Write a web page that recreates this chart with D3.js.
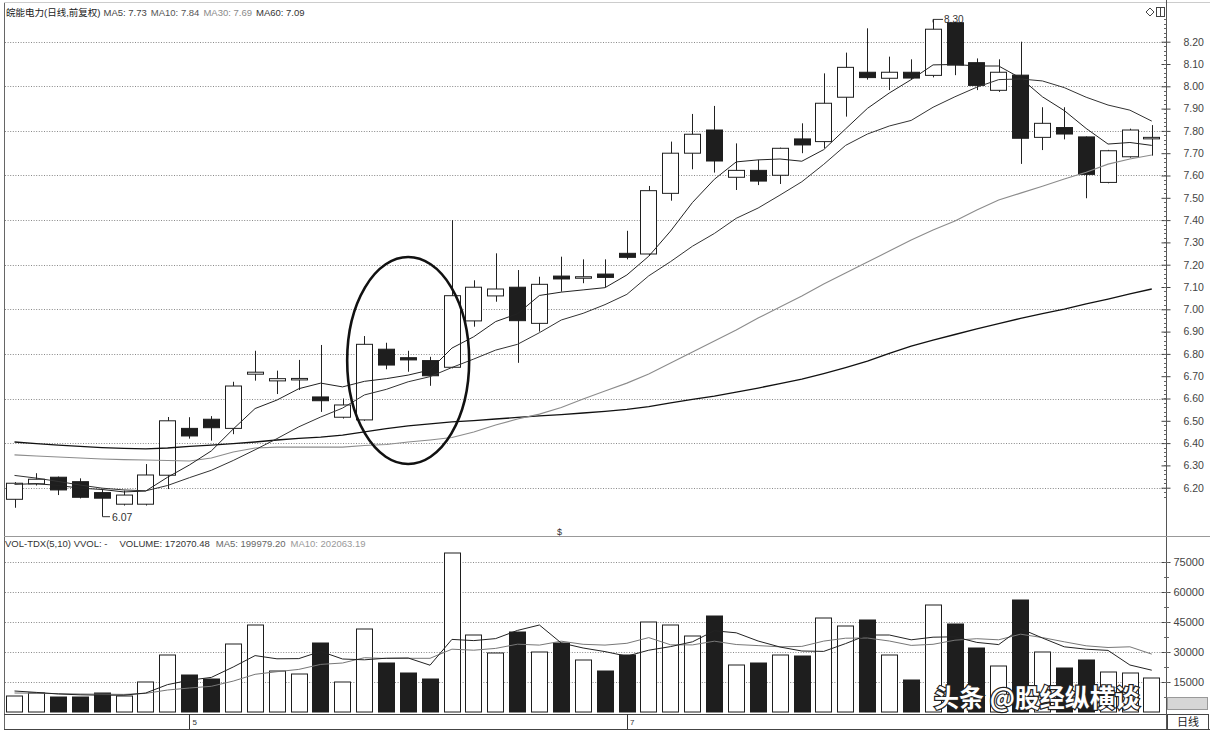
<!DOCTYPE html>
<html><head><meta charset="utf-8">
<script src="https://cdn.jsdelivr.net/npm/d3@7/dist/d3.min.js"></script>
<style>body{margin:0;background:#fff}svg{display:block}</style>
</head><body>
<svg id="chart" width="1210" height="732"></svg>
<script>
// ---------- data ----------
const openP  = [6.148,6.217,6.247,6.227,6.178,6.126,6.126,6.256,6.466,6.507,6.466,6.709,6.679,6.688,6.607,6.516,6.504,6.821,6.783,6.770,6.740,6.948,7.060,7.099,6.937,7.149,7.144,7.158,7.251,7.248,7.520,7.700,7.804,7.592,7.623,7.601,7.764,7.752,7.951,8.063,8.036,8.063,8.049,8.285,8.106,7.982,8.050,7.771,7.815,7.773,7.569,7.684,7.770];
const highP  = [6.225,6.265,6.250,6.242,6.193,6.187,6.306,6.517,6.516,6.521,6.675,6.814,6.725,6.773,6.840,6.600,6.880,6.850,6.814,6.787,7.400,7.130,7.251,7.176,7.146,7.236,7.224,7.224,7.352,7.553,7.752,7.876,7.912,7.744,7.670,7.725,7.834,8.058,8.151,8.260,8.133,8.121,8.300,8.290,8.125,8.121,8.200,7.906,7.906,7.775,7.715,7.810,7.826];
const lowP   = [6.110,6.210,6.167,6.152,6.070,6.120,6.120,6.194,6.420,6.411,6.440,6.680,6.620,6.638,6.540,6.510,6.500,6.731,6.720,6.657,6.735,6.922,7.034,6.760,6.900,7.079,7.117,7.100,7.224,7.240,7.487,7.628,7.613,7.535,7.557,7.562,7.700,7.722,7.864,8.030,7.983,8.030,8.040,8.050,7.983,7.975,7.652,7.714,7.762,7.498,7.565,7.680,7.689];
const closeP = [6.220,6.238,6.190,6.157,6.153,6.167,6.257,6.500,6.432,6.469,6.656,6.718,6.689,6.690,6.590,6.571,6.843,6.750,6.773,6.702,7.061,7.099,7.091,6.949,7.112,7.136,7.146,7.143,7.233,7.532,7.700,7.785,7.665,7.623,7.575,7.722,7.737,7.924,8.085,8.039,8.063,8.037,8.256,8.095,8.004,8.063,7.767,7.834,7.786,7.605,7.711,7.804,7.771];

const ma5  = [6.215,6.218,6.210,6.198,6.192,6.181,6.185,6.247,6.302,6.365,6.463,6.555,6.593,6.644,6.669,6.652,6.677,6.689,6.705,6.728,6.826,6.877,6.945,6.980,7.062,7.077,7.087,7.097,7.154,7.238,7.351,7.479,7.583,7.661,7.670,7.674,7.664,7.716,7.809,7.901,7.970,8.030,8.096,8.098,8.091,8.091,8.037,7.953,7.891,7.811,7.741,7.748,7.735];
const ma10 = [6.255,6.243,6.228,6.212,6.198,6.190,6.186,6.210,6.245,6.278,6.322,6.370,6.420,6.473,6.517,6.557,6.616,6.641,6.675,6.698,6.739,6.777,6.817,6.843,6.895,6.952,6.982,7.021,7.067,7.150,7.214,7.283,7.340,7.408,7.454,7.512,7.572,7.650,7.735,7.786,7.822,7.847,7.906,7.953,7.996,8.030,8.033,8.024,7.994,7.951,7.916,7.893,7.844];
const ma30 = [6.347,6.342,6.338,6.333,6.329,6.326,6.324,6.322,6.320,6.333,6.360,6.378,6.382,6.382,6.382,6.382,6.389,6.394,6.405,6.414,6.425,6.450,6.481,6.508,6.530,6.560,6.598,6.634,6.669,6.710,6.759,6.808,6.858,6.907,6.961,7.010,7.060,7.113,7.163,7.212,7.261,7.311,7.356,7.396,7.445,7.490,7.521,7.552,7.584,7.615,7.651,7.674,7.692];
const ma60 = [6.405,6.398,6.391,6.385,6.380,6.376,6.374,6.378,6.385,6.391,6.398,6.405,6.414,6.421,6.427,6.436,6.450,6.465,6.477,6.486,6.495,6.501,6.508,6.515,6.522,6.528,6.535,6.542,6.551,6.564,6.580,6.596,6.611,6.629,6.647,6.667,6.687,6.712,6.739,6.768,6.802,6.835,6.862,6.887,6.912,6.936,6.959,6.981,7.001,7.024,7.046,7.069,7.091];

const volume = [8000,9500,7500,7500,9500,8000,15000,28500,18500,16500,34000,43500,20500,19000,34500,15000,41500,24500,19500,16500,79500,38500,29500,40000,30000,34500,26000,20500,28500,45000,43500,38000,48000,23500,24500,28500,28000,47000,43000,46000,28500,16000,53500,44000,32000,23000,56000,30000,22000,26000,20000,19500,17000];
const volMa5  = [10500,9800,9000,8600,8400,8400,9500,13700,15900,17300,22500,28200,26600,26700,30300,26500,26100,26900,27000,23400,36300,35700,36700,40800,43500,34500,32000,30200,27900,30900,32700,35100,40600,39600,35500,32500,30500,30300,34200,38500,38500,36100,37400,37600,34800,33700,41700,37000,32600,31400,30800,23500,20900];
const volMa10 = [9500,9400,9200,9000,8900,8800,9300,11000,12000,12850,15450,18850,20150,21300,23800,24500,27150,26750,26850,26850,31400,30900,31800,33900,33450,35400,33850,33450,34350,37200,33600,33550,35400,33750,33200,32600,32800,35450,36900,37000,35500,33300,33850,35900,36650,36100,38900,37200,35100,33100,32250,32600,28950];

const priceTicks = [8.2,8.1,8.0,7.9,7.8,7.7,7.6,7.5,7.4,7.3,7.2,7.1,7.0,6.9,6.8,6.7,6.6,6.5,6.4,6.3,6.2];
const priceGrid  = [8.2,8.0,7.8,7.6,7.4,7.2,7.0,6.8,6.6,6.4,6.2];
const volTicks   = [75000,60000,45000,30000,15000];
const monthMarks = [{i:8,label:"5"},{i:28,label:"7"}];
const lowMark  = {i:4, label:"6.07"};
const highMark = {i:42, label:"8.30"};

const headerParts = [
  {t:"皖能电力(日线,前复权)", c:"#222"},
  {t:"MA5: 7.73",            c:"#444"},
  {t:"MA10: 7.84",           c:"#555"},
  {t:"MA30: 7.69",           c:"#8a8a8a"},
  {t:"MA60: 7.09",           c:"#333"}
];
const volHeaderParts = [
  {t:"VOL-TDX(5,10) VVOL: -", c:"#333"},
  {t:"VOLUME: 172070.48",     c:"#333"},
  {t:"MA5: 199979.20",        c:"#666"},
  {t:"MA10: 202063.19",       c:"#999"}
];

// ---------- layout ----------
const svg = d3.select("#chart");
const n = closeP.length;
const L = 4, R = 1166, W = 1210;
const priceTop = 4, priceBot = 536, volBase = 714, stripBot = 729;

const x = d3.scaleBand().domain(d3.range(n)).range([3.57, 1162.7]).paddingInner(0.24).paddingOuter(0.12);
const bw = x.bandwidth();
const cx = i => x(i) + bw/2;
const y = d3.scaleLinear().domain([6.2, 8.2]).range([487.7, 41.7]);
const yv = d3.scaleLinear().domain([0, 75000]).range([712, 562]);

const font = "'Liberation Sans','Noto Sans CJK SC',Arial,sans-serif";

// place text parts one after another using their measured widths
function flowText(parts, x0, yb, size, gaps) {
  let xx = x0;
  parts.forEach((p, k) => {
    const t = svg.append("text").attr("x", xx).attr("y", yb).attr("font-family", font)
      .attr("font-size", size).attr("fill", p.c).text(p.t);
    xx += t.node().getComputedTextLength() + gaps[k];
  });
}

svg.append("defs").append("clipPath").attr("id","pclip")
  .append("rect").attr("x",L+1).attr("y",priceTop).attr("width",R-L-1).attr("height",priceBot-priceTop);

// frame lines
svg.append("line").attr("x1",L+0.5).attr("x2",L+0.5).attr("y1",3).attr("y2",stripBot).attr("stroke","#666");
svg.append("line").attr("x1",L).attr("x2",W).attr("y1",2.5).attr("y2",2.5).attr("stroke","#ccc");
svg.append("line").attr("x1",R+0.5).attr("x2",R+0.5).attr("y1",0).attr("y2",stripBot).attr("stroke","#555");
svg.append("line").attr("x1",L).attr("x2",W).attr("y1",priceBot+0.5).attr("y2",priceBot+0.5).attr("stroke","#999");
svg.append("line").attr("x1",L).attr("x2",R).attr("y1",volBase+0.5).attr("y2",volBase+0.5).attr("stroke","#444");
svg.append("line").attr("x1",L).attr("x2",W).attr("y1",stripBot+0.5).attr("y2",stripBot+0.5).attr("stroke","#444");

// price grid
svg.append("g").selectAll("line").data(priceGrid).join("line")
  .attr("x1",L+1).attr("x2",R).attr("y1",d=>Math.round(y(d))+0.5).attr("y2",d=>Math.round(y(d))+0.5)
  .attr("stroke","#888").attr("stroke-dasharray","1,1.6");

// price axis (right)
const pAxis = d3.axisRight(y).tickValues(priceTicks).tickFormat(d3.format(".2f")).tickSize(0).tickPadding(17);
const pg = svg.append("g").attr("transform",`translate(${R+0.5},0)`).call(pAxis);
pg.select(".domain").remove();
pg.selectAll("text").attr("font-family",font).attr("font-size","10.5px").attr("fill","#444");
pg.selectAll(".tick").append("line").attr("x1",-5).attr("x2",4).attr("stroke","#444");
svg.append("g").selectAll("line").data(d3.range(6.16, 8.3, 0.02)).join("line")
  .attr("x1",R-2).attr("x2",R+0.5).attr("y1",d=>Math.round(y(d))+0.5).attr("y2",d=>Math.round(y(d))+0.5)
  .attr("stroke","#666");

// header
flowText(headerParts, 6, 16, "9.5px", [3,4,4,4,0]);

// top-right icons
svg.append("path").attr("d","M1146,12 L1150,8 L1154,12 L1150,16 Z").attr("fill","none").attr("stroke","#444");
svg.append("rect").attr("x",1156.5).attr("y",7.5).attr("width",8).attr("height",9).attr("fill","none").attr("stroke","#444");
svg.append("line").attr("x1",1160.5).attr("x2",1160.5).attr("y1",8).attr("y2",16).attr("stroke","#444");

// price panel content
const pp = svg.append("g").attr("clip-path","url(#pclip)");

// high label (drawn beneath candles)
pp.append("path").attr("d",`M${cx(highMark.i)},${y(highP[highMark.i])+3} V${y(highP[highMark.i])} H${cx(highMark.i)+10}`)
  .attr("fill","none").attr("stroke","#333");
pp.append("text").attr("x",cx(highMark.i)+11).attr("y",y(highP[highMark.i])+4)
  .attr("font-family",font).attr("font-size","10px").attr("fill","#333").text(highMark.label);

// wicks
pp.append("g").selectAll("line").data(d3.range(n)).join("line")
  .attr("x1",i=>Math.round(cx(i))+0.5).attr("x2",i=>Math.round(cx(i))+0.5)
  .attr("y1",i=>y(highP[i])).attr("y2",i=>y(lowP[i])).attr("stroke","#222");

// bodies
pp.append("g").selectAll("rect").data(d3.range(n)).join("rect")
  .attr("x",i=>Math.round(x(i))+0.5).attr("width",Math.round(bw)-1)
  .attr("y",i=>y(Math.max(openP[i],closeP[i])))
  .attr("height",i=>Math.max(1.5, Math.abs(y(openP[i])-y(closeP[i]))))
  .attr("fill",i=>closeP[i]>=openP[i]?"#fff":"#1e1e1e")
  .attr("stroke","#1e1e1e").attr("stroke-width",1);

// moving averages
const lineGen = arr => d3.line().x((d,i)=>cx(i)).y(d=>y(d))(arr);
pp.append("path").attr("d",lineGen(ma60)).attr("fill","none").attr("stroke","#111").attr("stroke-width",1.3);
pp.append("path").attr("d",lineGen(ma30)).attr("fill","none").attr("stroke","#8c8c8c").attr("stroke-width",1.1);
pp.append("path").attr("d",lineGen(ma10)).attr("fill","none").attr("stroke","#333").attr("stroke-width",1);
pp.append("path").attr("d",lineGen(ma5)).attr("fill","none").attr("stroke","#222").attr("stroke-width",1);

// low label
pp.append("path").attr("d",`M${Math.round(cx(lowMark.i))+0.5},${y(lowP[lowMark.i])} H${cx(lowMark.i)+8}`)
  .attr("fill","none").attr("stroke","#333");
pp.append("text").attr("x",cx(lowMark.i)+10).attr("y",y(lowP[lowMark.i])+4)
  .attr("font-family",font).attr("font-size","10.5px").attr("fill","#333").text(lowMark.label);

// annotation ellipse
svg.append("ellipse").attr("cx",(cx(16)+cx(20))/2).attr("cy",360.5).attr("rx",61).attr("ry",103.5)
  .attr("fill","none").attr("stroke","#111").attr("stroke-width",2.6);

svg.append("text").attr("x",557).attr("y",535).attr("font-family",font).attr("font-size","9px").attr("fill","#333").text("$");

// volume header
flowText(volHeaderParts, 5, 547, "9.5px", [12,6,5,0]);

// volume grid
svg.append("g").selectAll("line").data(volTicks).join("line")
  .attr("x1",L+1).attr("x2",R).attr("y1",d=>Math.round(yv(d))+0.5).attr("y2",d=>Math.round(yv(d))+0.5)
  .attr("stroke","#888").attr("stroke-dasharray","1,1.6");

// volume axis
const vAxis = d3.axisRight(yv).tickValues(volTicks).tickFormat(d3.format("d")).tickSize(0).tickPadding(7);
const vag = svg.append("g").attr("transform",`translate(${R+0.5},0)`).call(vAxis);
vag.select(".domain").remove();
vag.selectAll("text").attr("font-family",font).attr("font-size","11px").attr("fill","#444");
vag.selectAll(".tick").append("line").attr("x1",-5).attr("x2",4).attr("stroke","#444");
svg.append("g").selectAll("line").data(d3.range(7500, 80000, 7500)).join("line")
  .attr("x1",R-2).attr("x2",R+3).attr("y1",d=>Math.round(yv(d))+0.5).attr("y2",d=>Math.round(yv(d))+0.5)
  .attr("stroke","#666");

// volume bars
svg.append("g").selectAll("rect").data(d3.range(n)).join("rect")
  .attr("x",i=>Math.round(x(i))+0.5).attr("width",Math.round(bw)-1)
  .attr("y",i=>yv(volume[i])).attr("height",i=>yv(0)-yv(volume[i]))
  .attr("fill",i=>closeP[i]>=openP[i]?"#fff":"#1e1e1e")
  .attr("stroke","#1e1e1e");

// volume MAs
const vLine = arr => d3.line().x((d,i)=>cx(i)).y(d=>yv(d))(arr);
svg.append("path").attr("d",vLine(volMa10)).attr("fill","none").attr("stroke","#777").attr("stroke-width",1);
svg.append("path").attr("d",vLine(volMa5)).attr("fill","none").attr("stroke","#222").attr("stroke-width",1);

// date strip marks
const mg = svg.append("g").selectAll("g").data(monthMarks).join("g");
mg.append("line").attr("x1",d=>Math.round(cx(d.i))+0.5).attr("x2",d=>Math.round(cx(d.i))+0.5)
  .attr("y1",volBase).attr("y2",stripBot).attr("stroke","#333");
mg.append("text").attr("x",d=>cx(d.i)+3).attr("y",725).attr("font-family",font).attr("font-size","8px")
  .attr("fill","#333").text(d=>d.label);

// bottom-right widgets
svg.append("rect").attr("x",1167.5).attr("y",697.5).attr("width",40).attr("height",12).attr("fill","#d6d6d6").attr("stroke","#999");
svg.append("rect").attr("x",1167.5).attr("y",714.5).attr("width",41).attr("height",15).attr("fill","#fff").attr("stroke","#444");
svg.append("text").attr("x",1188).attr("y",726).attr("text-anchor","middle").attr("font-family",font)
  .attr("font-size","11px").attr("fill","#222").text("日线");

// watermark
svg.append("text").attr("x",934).attr("y",707).attr("font-family","'Noto Sans CJK SC',sans-serif")
  .attr("font-size","25px").attr("font-weight","bold").attr("fill","#fff").attr("stroke","#222").attr("stroke-width",2.4)
  .attr("paint-order","stroke").text("头条 @股经纵横谈");
</script>
</body></html>
